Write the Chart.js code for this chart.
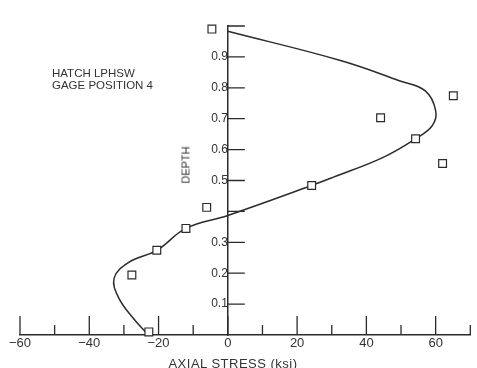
<!DOCTYPE html>
<html>
<head>
<meta charset="utf-8">
<title>Axial stress vs depth</title>
<script src="https://cdn.jsdelivr.net/npm/chart.js@4.4.1/dist/chart.umd.min.js"></script>
<style>
  html, body { margin: 0; padding: 0; background: #fff; overflow: hidden; }
  #wrap { position: relative; width: 477px; height: 368px; }
  canvas { display: block; }
  .note { position: absolute; font-family: 'Liberation Sans', Arial, sans-serif; color: #333; white-space: nowrap; }
  #caption { left: 52px; top: 67px; font-size: 11.5px; line-height: 12px; }
  #depthLabel { left: 186px; top: 165px; font-size: 11px; line-height: 11px; transform: translate(-50%, -50%) rotate(-90deg); }
  #xTitle { left: 233px; top: 357px; font-size: 13px; line-height: 13px; letter-spacing: 0.5px; transform: translateX(-50%); }
</style>
</head>
<body>
<div id="wrap">
  <canvas id="stressChart" width="477" height="368"></canvas>
  <div class="note" id="caption">HATCH LPHSW<br>GAGE POSITION 4</div>
  <div class="note" id="depthLabel">DEPTH</div>
  <div class="note" id="xTitle">AXIAL STRESS (ksi)</div>
</div>
<script>
// measured gage readings (squares)
const gageStress = [-4.6, 65.1, 44.1, 54.2, 62.0, 24.2, -6.1, -12.1, -20.5, -27.7, -22.8];
const gageDepth = [0.99, 0.774, 0.703, 0.635, 0.555, 0.484, 0.413, 0.345, 0.274, 0.194, 0.01];

// faired curve through the readings
const curveStress = [0, 33, 49.5, 57, 60, 59, 54.2, 44.7, 30.3, 24.2, 0, -12.1, -20.5, -28.5, -32.8, -31.5, -27, -23.3];
const curveDepth = [0.983, 0.887, 0.823, 0.79, 0.726, 0.677, 0.635, 0.574, 0.51, 0.484, 0.387, 0.345, 0.274, 0.236, 0.185, 0.12, 0.05, 0.005];

// labelled ticks
const stressLabels = [-60, -40, -20, 0, 20, 40, 60];
const depthLabels = [0.1, 0.2, 0.3, 0.5, 0.6, 0.7, 0.8, 0.9];

const ink = '#2b2b2b';
const fontFamily = "'Liberation Sans', Arial, sans-serif";

// tick marks sit above the stress axis and right of the depth axis
const tickMarks = {
  id: 'tickMarks',
  afterDraw(chart) {
    const ctx = chart.ctx;
    const xScale = chart.scales.x;
    const yScale = chart.scales.y;
    const axisY = yScale.getPixelForValue(0);
    const axisX = xScale.getPixelForValue(0);
    ctx.save();
    ctx.strokeStyle = ink;
    ctx.lineWidth = 1.3;
    ctx.beginPath();
    xScale.ticks.forEach((t) => {
      const px = xScale.getPixelForValue(t.value);
      const len = stressLabels.includes(t.value) ? 19 : 10;
      ctx.moveTo(px, axisY);
      ctx.lineTo(px, axisY - len);
    });
    yScale.ticks.forEach((t) => {
      if (t.value <= 0) return;
      const py = yScale.getPixelForValue(t.value);
      ctx.moveTo(axisX, py);
      ctx.lineTo(axisX + 17, py);
    });
    ctx.stroke();
    ctx.restore();
  }
};

const gagePoints = gageStress.map((s, i) => ({ x: s, y: gageDepth[i] }));
const curvePoints = curveStress.map((s, i) => ({ x: s, y: curveDepth[i] }));

new Chart(document.getElementById('stressChart'), {
  type: 'scatter',
  data: {
    datasets: [
      {
        label: 'Gage readings',
        data: gagePoints,
        pointStyle: 'rect',
        pointRadius: 5.5,
        borderColor: ink,
        backgroundColor: '#fff',
        borderWidth: 1.2,
        showLine: false,
        clip: false,
      },
      {
        label: 'Faired curve',
        data: curvePoints,
        showLine: true,
        tension: 0.4,
        pointRadius: 0,
        borderColor: ink,
        borderWidth: 1.5,
        fill: false,
        clip: false,
      },
    ],
  },
  options: {
    responsive: false,
    animation: false,
    events: [],
    layout: { padding: { left: 20, right: 4, top: 26, bottom: 14 } },
    plugins: {
      legend: { display: false },
      tooltip: { enabled: false },
    },
    scales: {
      x: {
        type: 'linear',
        position: 'bottom',
        min: -60,
        max: 70,
        grid: { display: false, drawTicks: false },
        border: { color: ink, width: 1.5 },
        ticks: {
          stepSize: 10,
          autoSkip: false,
          maxRotation: 0,
          padding: 1,
          color: '#333',
          font: { family: fontFamily, size: 13 },
          callback: (v) => stressLabels.includes(v) ? (v < 0 ? '\u2212' + Math.abs(v) : String(v)) : '',
        },
        afterFit(scale) {
          scale.height = 19;
        },
      },
      y: {
        type: 'linear',
        position: { x: 0 },
        min: 0,
        max: 1,
        grid: { drawOnChartArea: false, color: 'rgba(0,0,0,0)', tickLength: 4 },
        border: { color: ink, width: 1.5 },
        ticks: {
          stepSize: 0.1,
          autoSkip: false,
          color: '#333',
          font: { family: fontFamily, size: 12 },
          callback: (v) => depthLabels.some((d) => Math.abs(d - v) < 1e-6) ? v.toFixed(1) : '',
        },
      },
    },
  },
  plugins: [tickMarks],
});
</script>
</body>
</html>
